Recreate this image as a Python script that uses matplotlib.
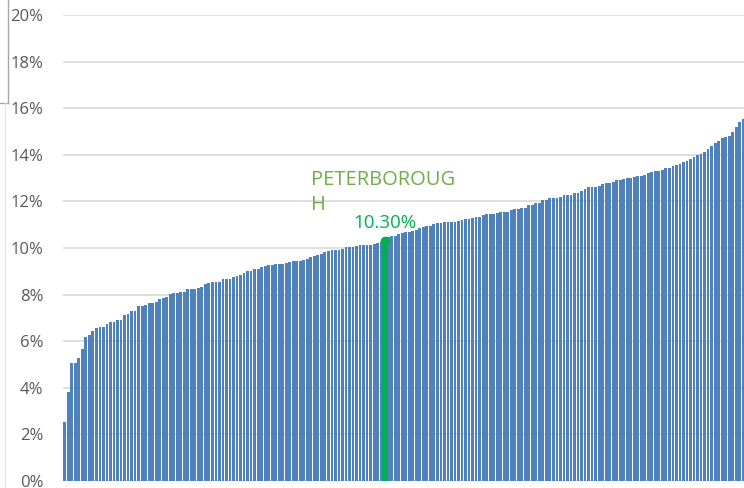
import matplotlib.pyplot as plt
from matplotlib.lines import Line2D
from matplotlib.ticker import FuncFormatter

# отсортированные доли по районам, %
rates_low = [2.55, 3.83, 5.05, 5.05, 5.3, 5.65, 6.2, 6.25, 6.45, 6.55, 6.62, 6.62,
             6.74, 6.84, 6.84, 6.91, 6.91, 7.12, 7.17, 7.31, 7.31, 7.5, 7.52, 7.55,
             7.63, 7.65, 7.67, 7.82, 7.85, 7.91, 8.03, 8.05,
             8.08, 8.1, 8.1, 8.22, 8.24, 8.24, 8.3, 8.34, 8.45, 8.5, 8.53, 8.53,
             8.55, 8.66, 8.66, 8.68, 8.74, 8.8, 8.85, 8.94, 9.0, 9.03, 9.1, 9.11,
             9.2, 9.24, 9.26, 9.26, 9.3, 9.31, 9.32, 9.36, 9.42, 9.44,
             9.45, 9.45, 9.5, 9.53, 9.6, 9.66, 9.7, 9.74, 9.84, 9.88, 9.91, 9.91,
             9.92, 9.95, 10.03, 10.03, 10.04, 10.1, 10.13, 10.13, 10.14, 10.15,
             10.18, 10.22, 10.25]
highlight_name = 'PETERBOROUGH'
highlight_rate = 10.30
rates_high = [10.48, 10.5, 10.52, 10.6, 10.63,
              10.68, 10.7, 10.73, 10.78, 10.85, 10.9, 10.94, 10.95, 11.05, 11.06,
              11.07, 11.1, 11.1, 11.1, 11.11, 11.15, 11.2, 11.24, 11.25, 11.3,
              11.32, 11.33, 11.4, 11.46, 11.46, 11.47, 11.5, 11.53, 11.53, 11.55,
              11.62, 11.66, 11.67,
              11.7, 11.72, 11.85, 11.86, 11.92, 11.93, 12.06, 12.07, 12.13, 12.13,
              12.14, 12.2, 12.27, 12.27, 12.28, 12.37, 12.38, 12.45, 12.52, 12.6,
              12.6, 12.62, 12.68, 12.73, 12.8, 12.8, 12.82, 12.92, 12.92, 12.97, 12.99,
              13.0, 13.05, 13.09, 13.1, 13.15, 13.2, 13.25, 13.3, 13.32, 13.33,
              13.42, 13.45, 13.52, 13.55, 13.6, 13.68, 13.75, 13.8, 13.89, 13.99,
              14.05, 14.1, 14.24, 14.39, 14.49, 14.58, 14.7, 14.78, 14.79, 14.99,
              15.18, 15.42, 15.52]
y_ticks = [0, 2, 4, 6, 8, 10, 12, 14, 16, 18, 20]

values = rates_low + [highlight_rate] + rates_high
hi = len(rates_low)
x = list(range(len(values)))

fig = plt.figure(figsize=(7.44, 4.88), dpi=100)
ax = fig.add_axes([63 / 744, 7 / 488, 682 / 744, 466 / 488])

ax.bar(x, values, width=0.8, color='#4f81bd', zorder=2)
# выделенный район: зелёная обводка и точка сверху
ax.bar(hi, highlight_rate, width=0.8, color='#4f81bd', edgecolor='#00b050',
       linewidth=2, zorder=3)
ax.plot(hi, highlight_rate, 'o', color='#00b050', markersize=6, zorder=4)
ax.text(hi, highlight_rate + 0.4, f'{highlight_rate:.2f}%', color='#00b050',
        ha='center', va='bottom', fontsize=13.5, family='Open Sans', zorder=5)
ax.text(hi - 21, highlight_rate + 1.1, 'PETERBOROUG\nH', color='#70ad47',
        ha='left', va='bottom', fontsize=14.5, family='Open Sans', linespacing=1.35,
        zorder=5)

ax.set_xlim(-0.5, len(values) - 0.5)
ax.set_ylim(0, 20)
ax.set_yticks(y_ticks)
ax.yaxis.set_major_formatter(FuncFormatter(lambda v, _: f'{v:.0f}%'))
ax.set_xticks([])
ax.grid(axis='y', color='#d9d9d9', linewidth=1.2, zorder=0)
for s in ax.spines.values():
    s.set_visible(False)
ax.tick_params(axis='y', length=0, pad=14, labelsize=12, labelcolor='#595959')
for lab in ax.get_yticklabels():
    lab.set_family('Open Sans')

# рамка соседнего элемента слева
fig.add_artist(Line2D([8 / 744, 8 / 744], [1, 1 - 103 / 488], color='#a6a6a6', lw=1))
fig.add_artist(Line2D([0, 8 / 744], [1 - 103 / 488, 1 - 103 / 488], color='#a6a6a6', lw=1))
fig.add_artist(Line2D([5 / 744, 5 / 744], [0, 1 - 103 / 488], color='#e6e6e6', lw=1))

fig.savefig('out.png', dpi=100)
plt.close()
